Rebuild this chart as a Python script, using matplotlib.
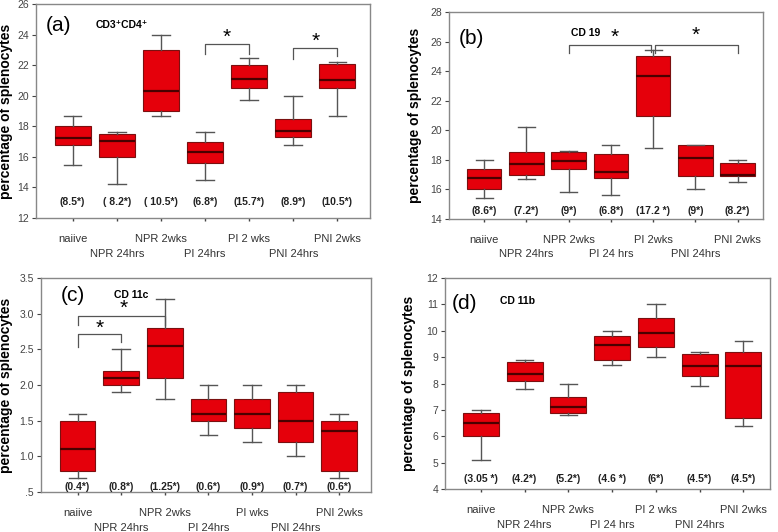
import matplotlib
matplotlib.use("Agg")
import matplotlib.pyplot as plt

plt.rcParams["font.family"] = ["Liberation Sans", "DejaVu Sans"]

groups_a = ["naiive", "NPR 24hrs", "NPR 2wks", "PI 24hrs", "PI 2 wks", "PNI 24hrs", "PNI 2wks"]
groups_b = ["naiive", "NPR 24hrs", "NPR 2wks", "PI 24 hrs", "PI 2wks", "PNI 24hrs", "PNI 2wks"]
groups_c = ["naiive", "NPR 24hrs", "NPR 2wks", "PI 24hrs", "PI wks", "PNI 24hrs", "PNI 2wks"]
groups_d = ["naiive", "NPR 24hrs", "NPR 2wks", "PI 24 hrs", "PI 2 wks", "PNI 24hrs", "PNI 2wks"]

# (a) CD3+CD4+
a_lo = [15.5, 14.2, 18.7, 14.5, 19.7, 16.8, 18.7]
a_q1 = [16.8, 16.0, 19.0, 15.6, 20.5, 17.3, 20.5]
a_med = [17.25, 17.05, 20.3, 16.3, 21.1, 17.7, 21.0]
a_q3 = [18.0, 17.5, 23.0, 17.0, 22.0, 18.5, 22.1]
a_hi = [18.7, 17.6, 24.0, 17.6, 22.5, 20.0, 22.2]
a_notes = ["(8.5*)", "( 8.2*)", "( 10.5*)", "(6.8*)", "(15.7*)", "(8.9*)", "(10.5*)"]

# (b) CD 19
b_lo = [15.4, 16.7, 15.8, 15.6, 18.8, 16.0, 16.5]
b_q1 = [16.0, 17.0, 17.4, 16.8, 21.0, 16.9, 16.9]
b_med = [16.8, 17.75, 17.9, 17.2, 23.7, 18.15, 16.95]
b_q3 = [17.35, 18.5, 18.5, 18.4, 25.0, 19.0, 17.8]
b_hi = [18.0, 20.2, 18.6, 19.0, 25.4, 19.0, 18.0]
b_notes = ["(8.6*)", "(7.2*)", "(9*)", "(6.8*)", "(17.2 *)", "(9*)", "(8.2*)"]

# (c) CD 11c
c_lo = [0.7, 1.9, 1.8, 1.3, 1.2, 1.0, 0.7]
c_q1 = [0.8, 2.0, 2.1, 1.5, 1.4, 1.2, 0.8]
c_med = [1.1, 2.1, 2.55, 1.6, 1.6, 1.5, 1.35]
c_q3 = [1.5, 2.2, 2.8, 1.8, 1.8, 1.9, 1.5]
c_hi = [1.6, 2.5, 3.2, 2.0, 2.0, 2.0, 1.6]
c_notes = ["(0.4*)", "(0.8*)", "(1.25*)", "(0.6*)", "(0.9*)", "(0.7*)", "(0.6*)"]

# (d) CD 11b
d_lo = [5.1, 7.8, 6.8, 8.7, 9.0, 7.9, 6.4]
d_q1 = [6.0, 8.1, 6.9, 8.9, 9.4, 8.3, 6.7]
d_med = [6.5, 8.35, 7.1, 9.45, 9.9, 8.65, 8.65]
d_q3 = [6.9, 8.8, 7.5, 9.8, 10.5, 9.1, 9.2]
d_hi = [7.0, 8.9, 8.0, 10.0, 11.0, 9.2, 9.6]
d_notes = ["(3.05 *)", "(4.2*)", "(5.2*)", "(4.6 *)", "(6*)", "(4.5*)", "(4.5*)"]

FILL = "#e5000b"
EDGE = "#7a1010"
MED = "#4a0000"
WHISK = "#555555"
FRAME = "#888888"

fig = plt.figure(figsize=(7.78, 5.32), dpi=100)
W, H = 778.0, 532.0


def r(l, t, rgt, b):
    return [l / W, 1 - b / H, (rgt - l) / W, (b - t) / H]


def panel(rect, labels, lo, q1, med, q3, hi, notes, ylim, yticks, yticklabels,
          note_y, xlim, tag, tag_xy, title, title_xy, ylab_x):
    ax = fig.add_axes(rect)
    stats = []
    for i in range(len(labels)):
        stats.append(dict(whislo=lo[i], q1=q1[i], med=med[i], q3=q3[i],
                          whishi=hi[i], fliers=[], label=labels[i]))
    pos = list(range(1, len(labels) + 1))
    ax.bxp(stats, positions=pos, widths=0.82, patch_artist=True, showfliers=False,
           boxprops=dict(facecolor=FILL, edgecolor=EDGE, linewidth=0.8),
           medianprops=dict(color=MED, linewidth=1.6),
           whiskerprops=dict(color=WHISK, linewidth=1.0),
           capprops=dict(color=WHISK, linewidth=1.0), capwidths=0.4)
    ax.set_xlim(*xlim)
    ax.set_ylim(*ylim)
    ax.set_yticks(yticks)
    ax.set_yticklabels(yticklabels, fontsize=7.5, color="#444444")
    ax.set_xticks(pos)
    ax.set_xticklabels([])
    ax.tick_params(axis="y", length=3, width=0.8, color="#444444", pad=2)
    ax.tick_params(axis="x", length=2, width=1.0, color="#444444")
    for s in ax.spines.values():
        s.set_color(FRAME)
        s.set_linewidth(1.0)
    for i, lab in enumerate(labels):
        dy = -0.1 if i % 2 == 0 else -0.17
        ax.text(pos[i], dy, lab, transform=ax.get_xaxis_transform(), ha="center",
                va="center", fontsize=8, color="#333333")
    for i, n in enumerate(notes):
        ax.text(pos[i], note_y, n, ha="center", va="center", fontsize=7.5,
                fontweight="bold", color="#222222")
    ax.set_ylabel("percentage of splenocytes", fontsize=10, fontweight="bold")
    ax.yaxis.set_label_coords(ylab_x, 0.5)
    ax.text(tag_xy[0], tag_xy[1], tag, transform=ax.transAxes, fontsize=15,
            va="center", ha="left")
    ax.text(title_xy[0], title_xy[1], title, transform=ax.transAxes, fontsize=7.5,
            fontweight="bold", va="center", ha="left")
    return ax


def bracket(ax, x1, x2, ytop, yl, yr, sx, sy, color="#555555"):
    ax.plot([x1, x1, x2, x2], [yl, ytop, ytop, yr], color=color, linewidth=0.9)
    ax.text(sx, sy, "*", ha="center", va="center", fontsize=15)


axa = panel(r(36, 4, 370, 218), groups_a, a_lo, a_q1, a_med, a_q3, a_hi, a_notes,
            (12, 26), [12, 14, 16, 18, 20, 22, 24, 26],
            ["12", "14", "16", "18", "20", "22", "24", "26"], 13.05,
            (0.17, 7.74), "(a)", (0.03, 0.9), "CD3\u207aCD4\u207a", (0.18, 0.9),
            -0.068)
bracket(axa, 4, 5, 23.4, 22.7, 22.7, 4.5, 23.8)
bracket(axa, 6, 7, 23.1, 22.4, 22.6, 6.5, 23.55)

axb = panel(r(449, 12, 763, 219), groups_b, b_lo, b_q1, b_med, b_q3, b_hi, b_notes,
            (14, 28), [14, 16, 18, 20, 22, 24, 26, 28],
            ["14", "16", "18", "20", "22", "24", "26", "28"], 14.56,
            (0.17, 7.6), "(b)", (0.03, 0.87), "CD 19", (0.39, 0.9), -0.085)
bracket(axb, 3, 4.95, 25.8, 25.2, 25.3, 4.1, 26.3)
bracket(axb, 5.05, 7, 25.8, 25.2, 25.2, 6.0, 26.4)

axc = panel(r(41, 278, 371, 492), groups_c, c_lo, c_q1, c_med, c_q3, c_hi, c_notes,
            (0.5, 3.5), [0.5, 1.0, 1.5, 2.0, 2.5, 3.0, 3.5],
            [".5", "1.0", "1.5", "2.0", "2.5", "3.0", "3.5"], 0.57,
            (0.16, 7.73), "(c)", (0.06, 0.92), "CD 11c", (0.22, 0.92), -0.085)
bracket(axc, 1, 2, 2.72, 2.53, 2.6, 1.5, 2.8)
bracket(axc, 1, 3, 2.97, 2.84, 2.84, 2.05, 3.07)

axd = panel(r(445, 278, 770, 489), groups_d, d_lo, d_q1, d_med, d_q3, d_hi, d_notes,
            (4, 12), [4, 5, 6, 7, 8, 9, 10, 11, 12],
            ["4", "5", "6", "7", "8", "9", "10", "11", "12"], 4.39,
            (0.18, 7.61), "(d)", (0.02, 0.88), "CD 11b", (0.17, 0.89), -0.09)

fig.savefig("out.png", dpi=100)
